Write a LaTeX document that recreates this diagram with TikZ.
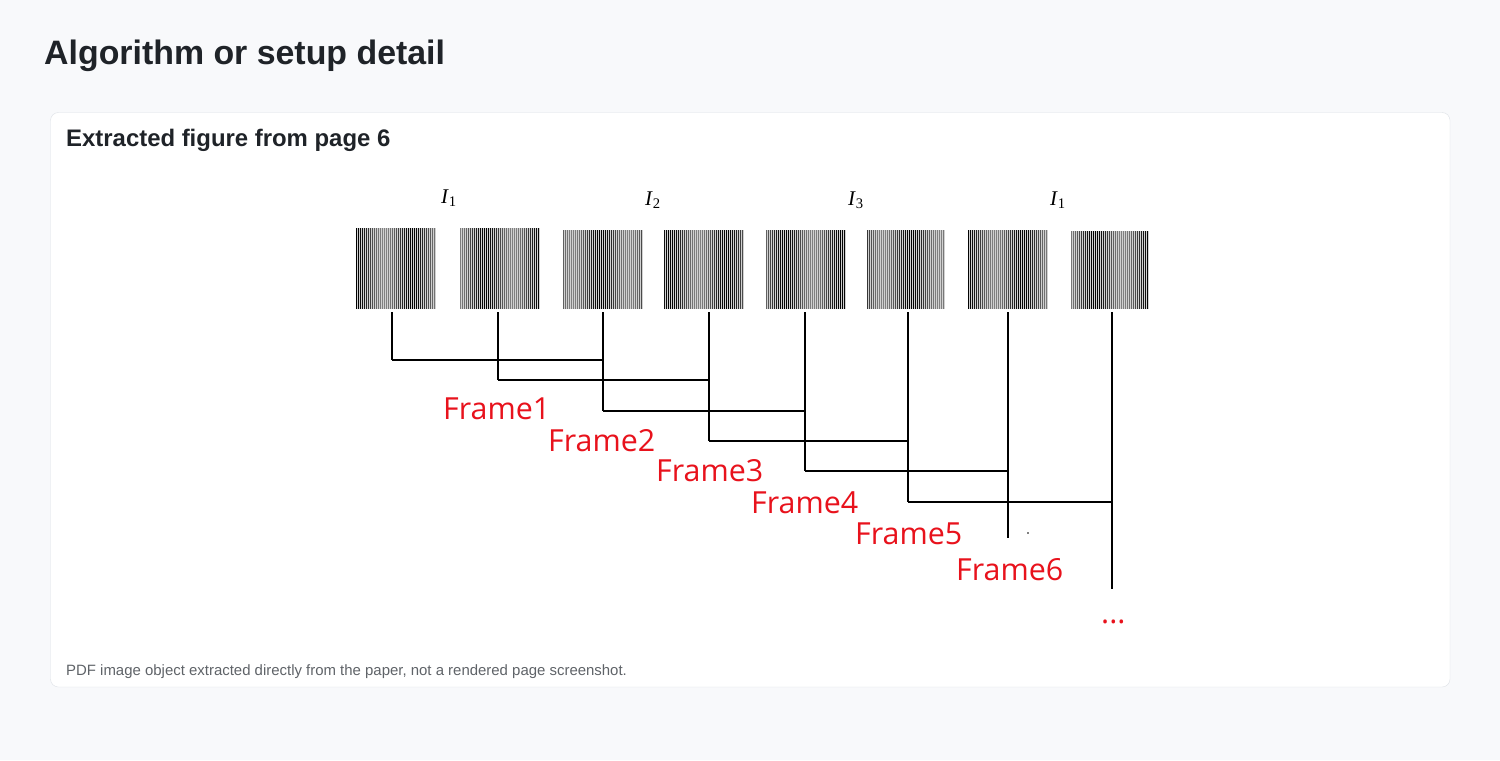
\documentclass[tikz,border=0pt]{standalone}
\usepackage{fontspec}
\setmainfont{Liberation Sans}
\newfontfamily\serifI{Liberation Serif}
\newfontfamily\framefont{Open Sans}
\definecolor{pagebg}{HTML}{F8F9FB}
\definecolor{cardline}{HTML}{DDE1E6}
\definecolor{titletext}{HTML}{1F2328}
\definecolor{foottext}{HTML}{5F6368}
\definecolor{framered}{RGB}{232,18,28}
\tikzset{
  fringe/.style={inner sep=0pt, outer sep=0pt, fill=black!18},
  link/.style={line width=1.8bp, black},
  framelabel/.style={anchor=base west, inner sep=0pt, text=framered, font=\framefont\fontsize{30.5}{30.5}\selectfont},
  ilabel/.style={anchor=base, inner sep=0pt, font=\serifI\fontsize{21}{21}\selectfont},
}
\begin{document}
\begin{tikzpicture}[x=1bp,y=-1bp]
\useasboundingbox (0,0) rectangle (1500,760);
\fill[pagebg] (0,0) rectangle (1500,760);
\node[anchor=base west, inner sep=0pt, text=titletext, font=\bfseries\fontsize{34}{34}\selectfont] (title) at (44,65) {Algorithm or setup detail};
\draw[cardline, fill=white, rounded corners=8bp] (50.5,112.5) rectangle (1450,687);
\node[anchor=base west, inner sep=0pt, text=titletext, font=\bfseries\fontsize{24}{24}\selectfont] (sub) at (66,146) {Extracted figure from page 6};
\node[anchor=base west, inner sep=0pt, text=foottext, font=\fontsize{15}{15}\selectfont] (foot) at (66,675) {PDF image object extracted directly from the paper, not a rendered page screenshot.};

% fringe patterns
\foreach \k/\l/\r/\t/\ph in {1/356/436/228/0, 2/460/540/228/200, 3/563/643/230/120, 4/664/744/230/320, 5/766/846/230/240, 6/867/945/230/80, 7/968/1048/230/10, 8/1071/1149/231/210}{
  \pgfmathsetmacro\w{\r-\l}
  \pgfmathsetmacro\h{309-\t}
  \pgfmathtruncatemacro\n{\w/2-1}
  \node[fringe, minimum width=\w bp, minimum height=\h bp] (b\k) at ({(\l+\r)/2},{(\t+309)/2}) {};
  \foreach \i in {0,...,\n}{
    \pgfmathsetmacro\xs{\i*2+0.5}
    \pgfmathtruncatemacro\g{75+25*cos(360*\i/28+\ph)}
    \draw[line width=1bp, black!\g] ([xshift=\xs bp]b\k.south west) -- ([xshift=\xs bp]b\k.north west);
  }
}

% labels above
\node[ilabel] (i1) at (449,203) {\textit{I}\textsubscript{1}};
\node[ilabel] (i2) at (653,205) {\textit{I}\textsubscript{2}};
\node[ilabel] (i3) at (856,205) {\textit{I}\textsubscript{3}};
\node[ilabel] (i4) at (1058,205) {\textit{I}\textsubscript{1}};

% drop points
\foreach \k/\x/\yb in {1/392/360, 2/498/380, 3/603/411, 4/709/441, 5/805/471, 6/908/502, 7/1008/538, 8/1112/589}{
  \coordinate (d\k) at (\x,312);
  \coordinate (e\k) at (\x,\yb);
}
\foreach \k in {1,...,8}{ \draw[link] (d\k) -- (e\k); }
\foreach \k/\m in {1/3, 2/4, 3/5, 4/6, 5/7, 6/8}{ \draw[link] (e\k) -- (e\k -| d\m); }
\fill[black] (1028,533) circle (0.8);

% frame labels
\node[framelabel] (f1) at (443,419) {Frame1};
\node[framelabel] (f2) at (548,451.5) {Frame2};
\node[framelabel] (f3) at (656,481.5) {Frame3};
\node[framelabel] (f4) at (751,513) {Frame4};
\node[framelabel] (f5) at (855,544) {Frame5};
\node[framelabel] (f6) at (956,580) {Frame6};
\node[framelabel] (dots) at (1101,623) {...};
\end{tikzpicture}
\end{document}
